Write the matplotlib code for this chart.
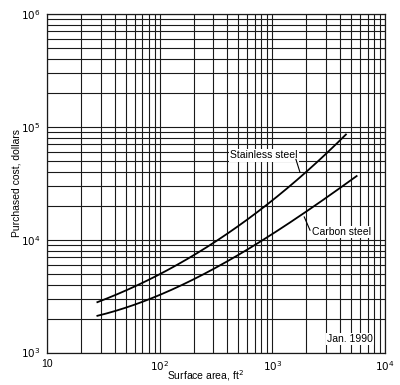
import numpy as np
import matplotlib
matplotlib.use("Agg")
import matplotlib.pyplot as plt
from matplotlib.ticker import LogLocator, NullFormatter, FixedLocator

plt.rcParams['font.family'] = ['Liberation Sans', 'DejaVu Sans']

# surface area (ft^2) and purchased cost (dollars)
ss_area = [28, 67, 100, 186, 331, 890, 1945, 4500]
ss_cost = [2816, 3950, 4950, 7050, 10250, 19500, 39800, 85300]

cs_area = [28, 77, 100, 186, 331, 450, 1090, 5600]
cs_cost = [2100, 2960, 3270, 4240, 5740, 6820, 12100, 36500]

x_ticks = [10, 100, 1000, 10000]
x_labels = ['10', '$10^2$', '$10^3$', '$10^4$']
y_ticks = [1e3, 1e4, 1e5, 1e6]
y_labels = ['$10^3$', '$10^4$', '$10^5$', '$10^6$']


def smooth(xs, ys, n=200):
    lx = np.log10(xs)
    ly = np.log10(ys)
    c = np.polyfit(lx, ly, 3)
    gx = np.linspace(lx[0], lx[-1], n)
    return 10 ** gx, 10 ** np.polyval(c, gx)


fig = plt.figure(figsize=(4.0, 3.85), dpi=100)
ax = fig.add_axes([0.1175, 0.0844, 0.845, 0.8792])
ax.set_xscale('log')
ax.set_yscale('log')
ax.set_xlim(10, 1e4)
ax.set_ylim(1e3, 1e6)

ax.xaxis.set_major_locator(FixedLocator(x_ticks))
ax.yaxis.set_major_locator(FixedLocator(y_ticks))
ax.set_xticklabels(x_labels)
ax.set_yticklabels(y_labels)
ax.xaxis.set_minor_locator(LogLocator(base=10, subs=np.arange(2, 10)))
ax.yaxis.set_minor_locator(LogLocator(base=10, subs=np.arange(2, 10)))
ax.xaxis.set_minor_formatter(NullFormatter())
ax.yaxis.set_minor_formatter(NullFormatter())
ax.grid(True, which='both', color='#1a1a1a', lw=0.8)
ax.tick_params(which='both', length=0, labelsize=7.5, pad=5)
for s in ax.spines.values():
    s.set_color('#1a1a1a')
    s.set_linewidth(0.9)

x, y = smooth(ss_area, ss_cost)
ax.plot(x, y, color='black', lw=1.3, zorder=3)
x, y = smooth(cs_area, cs_cost)
ax.plot(x, y, color='black', lw=1.3, zorder=3)

box = dict(facecolor='white', edgecolor='none', pad=1.0)
ax.text(840, 56000, 'Stainless steel', fontsize=7.5, ha='center', va='center',
        bbox=box, zorder=4)
ax.plot([1620, 1760], [51500, 39500], color='black', lw=0.8, zorder=4)
ax.text(4150, 11700, 'Carbon steel', fontsize=7.5, ha='center', va='center',
        bbox=box, zorder=4)
ax.plot([1920, 2160], [15900, 12130], color='black', lw=0.8, zorder=4)
ax.text(4900, 1315, 'Jan. 1990', fontsize=7.5, ha='center', va='center',
        bbox=box, zorder=4)

ax.set_xlabel('Surface area, ft$^2$', fontsize=7.5)
ax.xaxis.set_label_coords(0.468, -0.045)
ax.set_ylabel('Purchased cost, dollars', fontsize=7.5)
ax.yaxis.set_label_coords(-0.075, 0.5)

fig.savefig('out.png', dpi=100)
